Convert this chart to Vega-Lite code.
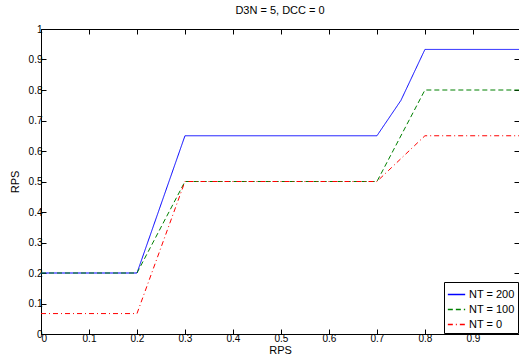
{
  "$schema": "https://vega.github.io/schema/vega-lite/v6.json",
  "width": 478,
  "height": 305,
  "autosize": {"type": "none"},
  "padding": {"left": 41, "top": 29, "right": 0, "bottom": 28},
  "background": "white",
  "title": {"text": "D3N = 5, DCC = 0", "font": "Liberation Sans", "fontSize": 11, "fontWeight": "normal", "color": "black", "offset": 8},
  "config": {
    "view": {"stroke": "black", "strokeWidth": 1},
    "axis": {"labelFont": "Liberation Sans", "titleFont": "Liberation Sans", "labelFontSize": 10, "titleFontSize": 11, "titleFontWeight": "normal", "labelColor": "black", "titleColor": "black", "domainColor": "black", "tickColor": "black", "tickSize": -5, "grid": false, "labelPadding": 4, "format": "~g"}
  },
  "data": {"values": [
    {"x": 0, "y": 0.2, "s": "NT = 200"},
    {"x": 0.2, "y": 0.2, "s": "NT = 200"},
    {"x": 0.3, "y": 0.65, "s": "NT = 200"},
    {"x": 0.7, "y": 0.65, "s": "NT = 200"},
    {"x": 0.75, "y": 0.766, "s": "NT = 200"},
    {"x": 0.8, "y": 0.933, "s": "NT = 200"},
    {"x": 0.996, "y": 0.933, "s": "NT = 200"},
    {"x": 0, "y": 0.2, "s": "NT = 100"},
    {"x": 0.2, "y": 0.2, "s": "NT = 100"},
    {"x": 0.3, "y": 0.5, "s": "NT = 100"},
    {"x": 0.7, "y": 0.5, "s": "NT = 100"},
    {"x": 0.8, "y": 0.8, "s": "NT = 100"},
    {"x": 0.996, "y": 0.8, "s": "NT = 100"},
    {"x": 0, "y": 0.067, "s": "NT = 0"},
    {"x": 0.2, "y": 0.067, "s": "NT = 0"},
    {"x": 0.3, "y": 0.5, "s": "NT = 0"},
    {"x": 0.7, "y": 0.5, "s": "NT = 0"},
    {"x": 0.8, "y": 0.65, "s": "NT = 0"},
    {"x": 0.996, "y": 0.65, "s": "NT = 0"}
  ]},
  "layer": [
    {
      "mark": {"type": "line", "strokeWidth": 1, "clip": true},
      "encoding": {
        "x": {"field": "x", "type": "quantitative", "scale": {"domain": [0, 0.996], "nice": false, "zero": false},
              "axis": {"orient": "bottom", "title": "RPS", "values": [0,0.1,0.2,0.3,0.4,0.5,0.6,0.7,0.8,0.9], "titlePadding": 1, "domain": false}},
        "y": {"field": "y", "type": "quantitative", "scale": {"domain": [0, 1], "nice": false},
              "axis": {"orient": "left", "title": "RPS", "values": [0,0.1,0.2,0.3,0.4,0.5,0.6,0.7,0.8,0.9,1], "titlePadding": 8, "domain": false}},
        "color": {"field": "s", "type": "nominal",
                  "scale": {"domain": ["NT = 200", "NT = 100", "NT = 0"], "range": ["#0000ff", "#008000", "#ff0000"]},
                  "legend": {"orient": "bottom-right", "title": null, "offset": 1, "strokeColor": "black", "fillColor": "white", "padding": 3, "symbolType": "stroke", "symbolSize": 300, "symbolStrokeWidth": 1.5, "labelFont": "Liberation Sans", "labelFontSize": 11, "labelColor": "black", "rowPadding": -8, "labelOffset": 3}},
        "strokeDash": {"field": "s", "type": "nominal",
                  "scale": {"domain": ["NT = 200", "NT = 100", "NT = 0"], "range": [[1, 0], [5, 3], [5, 3, 1, 3]]},
                  "legend": {"orient": "bottom-right", "title": null, "offset": 1, "strokeColor": "black", "fillColor": "white", "padding": 3, "symbolType": "stroke", "symbolSize": 300, "symbolStrokeWidth": 1.5, "labelFont": "Liberation Sans", "labelFontSize": 11, "labelColor": "black", "rowPadding": -8, "labelOffset": 3}}
      }
    },
    {
      "mark": {"type": "line", "opacity": 0},
      "encoding": {
        "x": {"field": "x", "type": "quantitative", "axis": {"orient": "top", "labels": false, "title": null, "values": [0,0.1,0.2,0.3,0.4,0.5,0.6,0.7,0.8,0.9], "domain": false}},
        "y": {"field": "y", "type": "quantitative", "axis": {"orient": "right", "labels": false, "title": null, "values": [0,0.1,0.2,0.3,0.4,0.5,0.6,0.7,0.8,0.9,1], "domain": false}},
        "detail": {"field": "s"}
      }
    }
  ],
  "resolve": {"axis": {"x": "independent", "y": "independent"}}
}
